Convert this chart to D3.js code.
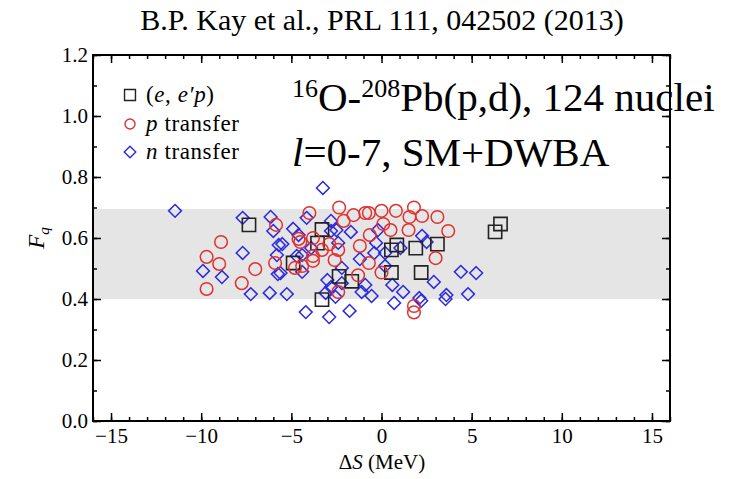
<!DOCTYPE html>
<html><head><meta charset="utf-8">
<script src="https://cdn.jsdelivr.net/npm/d3@7"></script>
<style>body{margin:0;background:#fff}svg{display:block}</style>
</head><body><div id="c"></div>
<script>
// Data: [ΔS (MeV), F_q]
const eepData = [[-7.35,0.643],[-3.3,0.628],[-3.55,0.583],[-4.9,0.518],[-2.35,0.474],[-1.65,0.458],[-3.3,0.398],[0.55,0.561],[0.85,0.577],[1.9,0.567],[3.1,0.580],[0.55,0.487],[2.2,0.487],[6.6,0.646],[6.3,0.620]];
const pData = [[-9.7,0.538],[-8.9,0.587],[-9.0,0.515],[-7.0,0.498],[-7.75,0.452],[-9.7,0.433],[-5.85,0.643],[-5.9,0.518],
 [-4.0,0.682],[-2.35,0.700],[-2.1,0.656],[-1.55,0.675],[-0.9,0.682],[-0.7,0.682],[0.0,0.689],[0.8,0.689],[1.55,0.669],[1.8,0.700],[2.25,0.672],[3.1,0.669],[3.7,0.623],[1.5,0.626],[0.1,0.646],[0.5,0.626],[-0.65,0.610],[-1.2,0.574],[-0.7,0.518],[0.0,0.487],[-1.3,0.478],[-2.4,0.423],[3.0,0.534],[1.8,0.377],[1.8,0.356],
 [-4.6,0.597],[-4.5,0.587],[-3.8,0.600],[-2.9,0.580],[-3.3,0.561],[-2.4,0.561],[-3.8,0.541],[-3.8,0.525],[-2.6,0.528],[-4.8,0.502],[-4.4,0.508]];
const nData = [[-11.45,0.689],[-7.7,0.666],[-6.15,0.669],[-6.0,0.623],[-5.7,0.577],[-5.8,0.544],[-5.75,0.482],[-7.7,0.551],[-9.9,0.492],[-8.85,0.472],[-7.25,0.416],[-6.2,0.420],
 [-3.25,0.764],[-4.9,0.630],[-4.15,0.666],[-2.8,0.656],[-2.8,0.623],[-1.7,0.620],[-2.5,0.626],[-5.5,0.580],[-4.6,0.610],[-4.7,0.541],[-4.4,0.544],[-3.9,0.567],[-2.4,0.584],[-1.2,0.531],[-0.4,0.551],[-0.2,0.626],[-0.3,0.584],[0.2,0.551],[0.2,0.508],[-5.6,0.485],[-4.4,0.489],[-2.2,0.502],[-3.0,0.462],[-2.8,0.439],[-2.2,0.452],[-0.9,0.446],[-1.1,0.423],[-0.55,0.410],[-5.25,0.416],[-3.1,0.420],[-2.55,0.407],[0.6,0.446],[1.2,0.423],[2.1,0.403],[2.2,0.394],[2.9,0.456],[3.6,0.413],[3.55,0.400],[-4.2,0.357],[-2.9,0.341],[-1.77,0.361],[0.7,0.387],[2.25,0.607],[2.5,0.587],[1.05,0.567],[4.4,0.489],[5.25,0.485],[4.8,0.416]];
const bandRange = [0.40, 0.695];
const xDomain = [-16, 16];
const yDomain = [0, 1.2];
const xTicks = [-15,-10,-5,0,5,10,15];
const yTicks = [0,0.2,0.4,0.6,0.8,1.0,1.2];
const titleText = "B.P. Kay et al., PRL 111, 042502 (2013)";

const SERIF = "Liberation Serif";
const W=731,H=479;
const m={l:93,r:61,t:55,b:58};
const svg=d3.select("#c").append("svg").attr("width",W).attr("height",H).attr("font-family",SERIF);
const x=d3.scaleLinear().domain(xDomain).range([m.l,W-m.r]);
const y=d3.scaleLinear().domain(yDomain).range([H-m.b,m.t]);

// band
svg.append("rect").attr("x",x(xDomain[0])).attr("width",x(xDomain[1])-x(xDomain[0]))
 .attr("y",y(bandRange[1])).attr("height",y(bandRange[0])-y(bandRange[1])).attr("fill","#e5e5e5");

// axes
function styleAx(g){g.attr("font-family",SERIF).attr("font-size",null);g.select(".domain").remove();
 g.selectAll("line").attr("stroke","#000").attr("stroke-width",1.5);
 g.selectAll("text").attr("font-size",21).attr("fill","#000").attr("font-family",SERIF);}
const xMinor=d3.range(-16,16.01,1), yMinor=d3.range(0,1.201,0.1);
svg.append("g").attr("transform",`translate(0,${y(0)})`).call(d3.axisBottom(x).tickValues(xTicks).tickSize(-8).tickPadding(7).tickFormat(d3.format("d"))).call(styleAx);
svg.append("g").attr("transform",`translate(0,${y(0)})`).call(d3.axisBottom(x).tickValues(xMinor).tickSize(-4).tickFormat("")).call(styleAx);
svg.append("g").attr("transform",`translate(0,${y(1.2)})`).call(d3.axisTop(x).tickValues(xTicks).tickSize(-8).tickFormat("")).call(styleAx);
svg.append("g").attr("transform",`translate(0,${y(1.2)})`).call(d3.axisTop(x).tickValues(xMinor).tickSize(-4).tickFormat("")).call(styleAx);
svg.append("g").attr("transform",`translate(${x(-16)},0)`).call(d3.axisLeft(y).tickValues(yTicks).tickSize(-8).tickPadding(5).tickFormat(d3.format(".1f"))).call(styleAx);
svg.append("g").attr("transform",`translate(${x(-16)},0)`).call(d3.axisLeft(y).tickValues(yMinor).tickSize(-4).tickFormat("")).call(styleAx);
svg.append("g").attr("transform",`translate(${x(16)},0)`).call(d3.axisRight(y).tickValues(yTicks).tickSize(-8).tickFormat("")).call(styleAx);
svg.append("g").attr("transform",`translate(${x(16)},0)`).call(d3.axisRight(y).tickValues(yMinor).tickSize(-4).tickFormat("")).call(styleAx);
svg.append("rect").attr("x",x(-16)).attr("y",y(1.2)).attr("width",x(16)-x(-16)).attr("height",y(0)-y(1.2))
 .attr("fill","none").attr("stroke","#000").attr("stroke-width",2);

// markers
const sq=d3.symbol().type(d3.symbolSquare).size(175);
const di=d3.symbol().type(d3.symbolDiamond2).size(105);
svg.append("g").selectAll("path").data(nData).join("path").attr("d",di)
 .attr("transform",d=>`translate(${x(d[0])},${y(d[1])})`)
 .attr("fill","none").attr("stroke","#2b2bdd").attr("stroke-width",1.5);
svg.append("g").selectAll("path").data(eepData).join("path").attr("d",sq)
 .attr("transform",d=>`translate(${x(d[0])},${y(d[1])})`)
 .attr("fill","none").attr("stroke","#222").attr("stroke-width",1.6);
svg.append("g").selectAll("circle").data(pData).join("circle")
 .attr("cx",d=>x(d[0])).attr("cy",d=>y(d[1])).attr("r",6.3)
 .attr("fill","none").attr("stroke","#e03030").attr("stroke-width",1.5);

// legend
const lg=svg.append("g");
const lx=130, ly=[95,124,152];
lg.append("path").attr("d",d3.symbol().type(d3.symbolSquare).size(120)).attr("transform",`translate(${lx},${ly[0]})`).attr("fill","none").attr("stroke","#222").attr("stroke-width",1.4);
lg.append("circle").attr("cx",lx).attr("cy",ly[1]).attr("r",5).attr("fill","none").attr("stroke","#e03030").attr("stroke-width",1.4);
lg.append("path").attr("d",d3.symbol().type(d3.symbolDiamond2).size(85)).attr("transform",`translate(${lx},${ly[2]})`).attr("fill","none").attr("stroke","#2b2bdd").attr("stroke-width",1.4);
function legText(i){return lg.append("text").attr("x",146).attr("y",ly[i]+7).attr("font-size",23).attr("letter-spacing",0.6);}
const t0=legText(0);
t0.append("tspan").text("(");t0.append("tspan").attr("font-style","italic").text("e");t0.append("tspan").text(", ");
t0.append("tspan").attr("font-style","italic").text("e′p");t0.append("tspan").text(")");
const t1=legText(1);
t1.append("tspan").attr("font-style","italic").text("p");t1.append("tspan").text(" transfer");
const t2=legText(2);
t2.append("tspan").attr("font-style","italic").text("n");t2.append("tspan").text(" transfer");

// annotations
const a1=svg.append("text").attr("x",292).attr("y",111).attr("font-size",41);
a1.append("tspan").attr("font-size",26).attr("dy",-14).text("16");
a1.append("tspan").attr("dy",14).text("O-");
a1.append("tspan").attr("font-size",26).attr("dy",-14).text("208");
a1.append("tspan").attr("dy",14).text("Pb(p,d), 124 nuclei");
const a2=svg.append("text").attr("x",292).attr("y",166).attr("font-size",41);
a2.append("tspan").attr("font-style","italic").text("l");
a2.append("tspan").text("=0-7, SM+DWBA");

// title
svg.append("text").attr("x",382).attr("y",30).attr("text-anchor","middle").attr("font-size",30).text(titleText);

// axis labels
const xl=svg.append("text").attr("x",382).attr("y",469).attr("text-anchor","middle").attr("font-size",21);
xl.append("tspan").text("Δ");xl.append("tspan").attr("font-style","italic").text("S");xl.append("tspan").text(" (MeV)");
const yl=svg.append("text").attr("transform",`translate(44,${y(0.6)}) rotate(-90)`).attr("text-anchor","middle").attr("font-size",23);
yl.append("tspan").attr("font-style","italic").text("F");
yl.append("tspan").attr("font-style","italic").attr("font-size",15).attr("dy",5).text("q");
</script></body></html>
